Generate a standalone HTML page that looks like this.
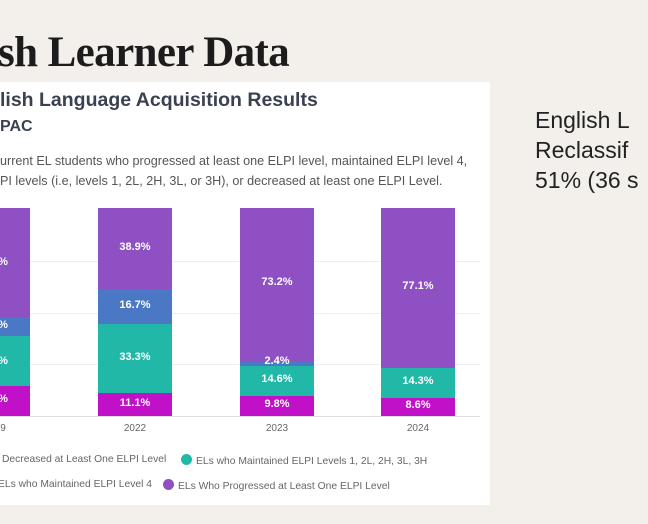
<!DOCTYPE html>
<html><head><meta charset="utf-8"><style>
*{margin:0;padding:0;box-sizing:border-box}
body{width:648px;height:524px;background:#f3f0ec;position:relative;overflow:hidden;font-family:"Liberation Sans",sans-serif}
.a{position:absolute;white-space:nowrap}
.card{position:absolute;left:0;top:82px;width:490px;height:423px;background:#fff}
.bar{position:absolute}
.lbl{position:absolute;color:#fff;font-weight:bold;font-size:11px;width:74px;text-align:center}
.yr{position:absolute;font-size:10px;color:#666;top:423px;width:74px;text-align:center}
.grid{position:absolute;left:0;width:480px;height:1px;background:#eee}
.leg{font-size:10.3px;color:#666}
.dot{display:inline-block;width:11px;height:11px;border-radius:50%;vertical-align:-1px;margin-right:4px}
</style></head><body>
<div class="a" style="left:-2px;top:28px;font-family:'Liberation Serif',serif;font-weight:bold;font-size:43px;color:#1c1c1c;letter-spacing:-0.6px">sh Learner Data</div>
<div class="card"></div>
<div class="a" style="left:0;top:89px;font-size:19.5px;font-weight:bold;color:#3a4150">lish Language Acquisition Results</div>
<div class="a" style="left:0;top:118px;font-size:16px;font-weight:bold;color:#3a4150">PAC</div>
<div class="a" style="left:0;top:154px;font-size:12.6px;color:#555">urrent EL students who progressed at least one ELPI level, maintained ELPI level 4,</div>
<div class="a" style="left:0;top:174px;font-size:12.6px;color:#555">PI levels (i.e, levels 1, 2L, 2H, 3L, or 3H), or decreased at least one ELPI Level.</div>
<div class="a" style="left:535px;top:105px;font-size:23px;color:#222;line-height:30px">English L<br>Reclassif<br>51% (36 s</div>

<div class="grid" style="top:261px"></div><div class="grid" style="top:313px"></div><div class="grid" style="top:364px"></div><div class="grid" style="top:416px;background:#ddd"></div>

<!-- 2019 -->
<div class="bar" style="left:0;width:30px;top:208px;height:109px;background:#8e50c3"></div>
<div class="bar" style="left:0;width:30px;top:317px;height:19px;background:#4a78c4"></div>
<div class="bar" style="left:0;width:30px;top:336px;height:50px;background:#22b8a8"></div>
<div class="bar" style="left:0;width:30px;top:386px;height:30px;background:#c010c8"></div>
<div class="lbl" style="left:-34px;top:256px">%</div><div class="lbl" style="left:-34px;top:319px">%</div><div class="lbl" style="left:-34px;top:355px">%</div><div class="lbl" style="left:-34px;top:393px">%</div>
<div class="yr" style="left:-34px">9</div>

<!-- 2022 -->
<div class="bar" style="left:98px;width:74px;top:208px;height:81px;background:#8e50c3"></div>
<div class="bar" style="left:98px;width:74px;top:289px;height:35px;background:#4a78c4"></div>
<div class="bar" style="left:98px;width:74px;top:324px;height:69px;background:#22b8a8"></div>
<div class="bar" style="left:98px;width:74px;top:393px;height:23px;background:#c010c8"></div>
<div class="lbl" style="left:98px;top:241px">38.9%</div><div class="lbl" style="left:98px;top:299px">16.7%</div><div class="lbl" style="left:98px;top:351px">33.3%</div><div class="lbl" style="left:98px;top:397px">11.1%</div>
<div class="yr" style="left:98px">2022</div>

<!-- 2023 -->
<div class="bar" style="left:240px;width:74px;top:208px;height:153px;background:#8e50c3"></div>
<div class="bar" style="left:240px;width:74px;top:361px;height:5px;background:#4a78c4"></div>
<div class="bar" style="left:240px;width:74px;top:366px;height:30px;background:#22b8a8"></div>
<div class="bar" style="left:240px;width:74px;top:396px;height:20px;background:#c010c8"></div>
<div class="lbl" style="left:240px;top:276px">73.2%</div><div class="lbl" style="left:240px;top:355px">2.4%</div><div class="lbl" style="left:240px;top:373px">14.6%</div><div class="lbl" style="left:240px;top:398px">9.8%</div>
<div class="yr" style="left:240px">2023</div>

<!-- 2024 -->
<div class="bar" style="left:381px;width:74px;top:208px;height:160px;background:#8e50c3"></div>
<div class="bar" style="left:381px;width:74px;top:368px;height:30px;background:#22b8a8"></div>
<div class="bar" style="left:381px;width:74px;top:398px;height:18px;background:#c010c8"></div>
<div class="lbl" style="left:381px;top:280px">77.1%</div><div class="lbl" style="left:381px;top:375px">14.3%</div><div class="lbl" style="left:381px;top:399px">8.6%</div>
<div class="yr" style="left:381px">2024</div>

<div class="a leg" style="left:2px;top:454px">Decreased at Least One ELPI Level</div>
<div class="a leg" style="left:181px;top:454px"><span class="dot" style="background:#22b8a8"></span>ELs who Maintained ELPI Levels 1, 2L, 2H, 3L, 3H</div>
<div class="a leg" style="left:-2px;top:479px">ELs who Maintained ELPI Level 4</div>
<div class="a leg" style="left:163px;top:479px"><span class="dot" style="background:#8e50c3"></span>ELs Who Progressed at Least One ELPI Level</div>
</body></html>
